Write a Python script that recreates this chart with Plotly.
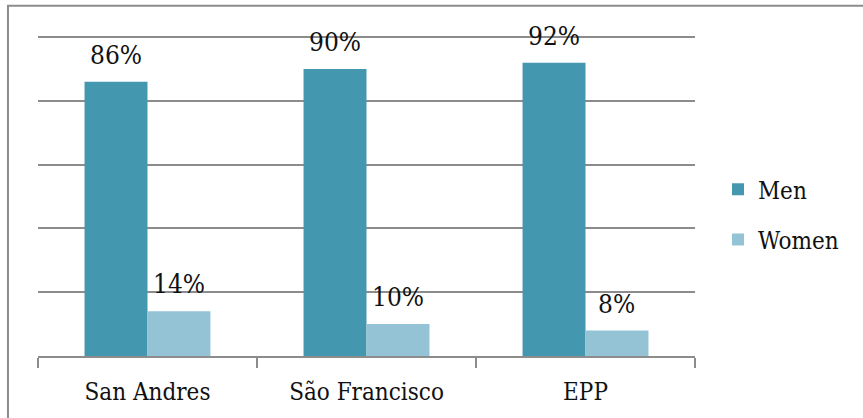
import plotly.graph_objects as go

# Share of participants by gender at each site (percent)
sites = ["San Andres", "São Francisco", "EPP"]
men = [86, 90, 92]
women = [14, 10, 8]

MEN_COLOR = "#4398B0"
WOMEN_COLOR = "#93C3D5"
GRID = "#8C8C8C"
FONT = "DejaVu Serif Condensed"

fig = go.Figure()
fig.add_trace(go.Bar(name="Men", x=sites, y=men, marker_color=MEN_COLOR,
                     marker_line_width=0, legendgroup="m"))
fig.add_trace(go.Bar(name="Women", x=sites, y=women, marker_color=WOMEN_COLOR,
                     marker_line_width=0, legendgroup="w"))

# Percentage labels above each bar
for vals, shift in ((men, -32), (women, 31)):
    for s, v in zip(sites, vals):
        fig.add_annotation(x=s, y=v, text=f"{v}%", showarrow=False,
                           xref="x", yref="y", xshift=shift, yshift=27,
                           font=dict(family=FONT, size=26, color="#111111"))

# Outer chart frame
fig.add_shape(type="rect", xref="paper", yref="paper",
              x0=-0.0457, x1=1.6, y0=-0.6, y1=1.091,
              line=dict(color=GRID, width=2), fillcolor="rgba(0,0,0,0)",
              layer="below")

fig.update_layout(
    width=863, height=418,
    margin=dict(l=38, r=168, t=35, b=62),
    paper_bgcolor="white", plot_bgcolor="white",
    barmode="group", bargap=0.425, bargroupgap=0,
    showlegend=True,
    legend=dict(x=1.035, y=0.44, xanchor="left", yanchor="middle",
                font=dict(family=FONT, size=24, color="#111111"),
                tracegroupgap=16, bgcolor="rgba(0,0,0,0)"),
    font=dict(family=FONT, size=24, color="#111111"),
)
fig.update_xaxes(showline=True, linecolor=GRID, linewidth=2,
                 ticks="outside", tickson="boundaries", ticklen=10,
                 tickcolor=GRID, tickwidth=2, showgrid=False,
                 tickfont=dict(family=FONT, size=24, color="#111111"),
                 ticklabelstandoff=13)
fig.update_yaxes(range=[0, 100.7], tick0=0, dtick=20, showgrid=True,
                 gridcolor=GRID, gridwidth=2, zeroline=False,
                 showticklabels=False, showline=False)

fig.write_html("out.html")
